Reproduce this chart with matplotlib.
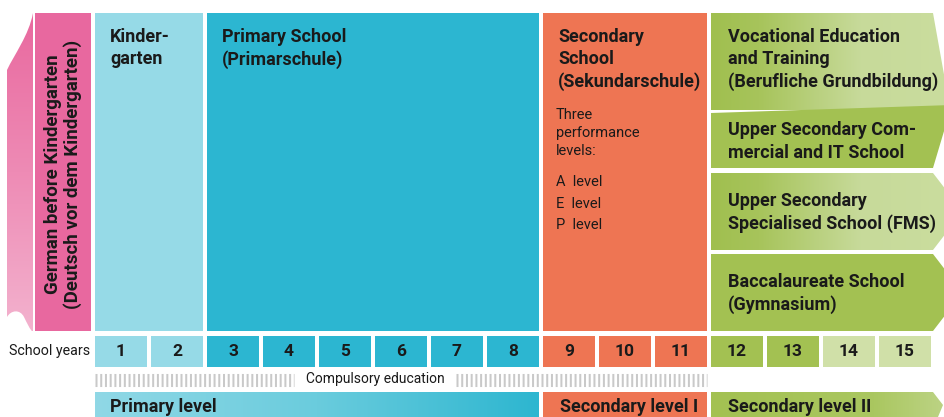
import matplotlib
matplotlib.use('Agg')
import matplotlib.pyplot as plt
import numpy as np
from matplotlib.patches import Polygon, Rectangle, PathPatch
from matplotlib.path import Path
from matplotlib.colors import LinearSegmentedColormap

# ---------------- data ----------------
years = list(range(1, 16))
year_colors = ['#96dae7'] * 2 + ['#2cb6d1'] * 6 + ['#ee7553'] * 3 + ['#a3c152'] * 2 + ['#d0e0a8'] * 2

pre_label = 'German before Kindergarten\n(Deutsch vor dem Kindergarten)'

stage_labels = ['Kinder-\ngarten', 'Primary School\n(Primarschule)', 'Secondary\nSchool\n(Sekundarschule)']
stage_start = [1, 3, 9]
stage_end = [2, 8, 11]
stage_colors = ['#96dae7', '#2cb6d1', '#ee7553']

sec_note = 'Three\nperformance\nlevels:'
sec_levels = ['A  level', 'E  level', 'P  level']

upper_labels = ['Vocational Education\nand Training\n(Berufliche Grundbildung)',
                'Upper Secondary Com-\nmercial and IT School',
                'Upper Secondary\nSpecialised School (FMS)',
                'Baccalaureate School\n(Gymnasium)']
upper_gradient = [True, False, True, False]
upper_start, upper_end = 12, 15

levels = ['Primary level', 'Secondary level I', 'Secondary level II']
level_start = [1, 9, 12]
level_end = [8, 11, 15]

compulsory_start, compulsory_end = 1, 11
compulsory_label = 'Compulsory education'
school_years_label = 'School years'

# ---------------- style / layout ----------------
FONT = ['Roboto', 'DejaVu Sans']
plt.rcParams['font.family'] = FONT
plt.rcParams['lines.scale_dashes'] = False
TXT = '#1a1a1a'
PINK = '#e8689f'
GREEN = '#a3c152'
GREEN_L = '#cadd9e'
HEAD_FS = 13
CW = 52 / 56          # cell width in year units (gap 4px of 56px pitch)
TOP, BOT = 13, 331    # top blocks (pixel rows)
YR0, YR1 = 336, 367   # school years row
CMP_Y = 379.5          # compulsory hatch line
LV0, LV1 = 392, 419   # level bars
W, H = 944, 417

fig = plt.figure(figsize=(W / 100, H / 100), dpi=100)
ax = fig.add_axes([0, 0, 1, 1])
ax.set_axis_off()


def xl(year):
    return year - 1


def xr(year):
    return year - 1 + CW


def grad(patch, x0, x1, y0, y1, stops, vertical=False):
    patch.set_facecolor('none')
    patch.set_edgecolor('none')
    ax.add_patch(patch)
    cmap = LinearSegmentedColormap.from_list('g', stops)
    arr = np.linspace(0, 1, 256)
    arr = arr.reshape(-1, 1) if vertical else arr.reshape(1, -1)
    im = ax.imshow(arr, cmap=cmap, extent=(x0, x1, y1, y0), aspect='auto',
                   origin='upper', interpolation='bilinear', zorder=1)
    im.set_clip_path(patch)


# ---- left decorative curved shape ----
u = lambda p: (p - 95) / 56.0  # pixel -> year-unit helper for decoration
verts = [(u(33), 13), (u(29), 35), (u(14), 55), (u(7), 70),
         (u(7), 317),
         (u(11), 310), (u(20), 309), (u(24), 317),
         (u(27), 323), (u(30), 330), (u(33), 332),
         (u(33), 13)]
codes = [Path.MOVETO, Path.CURVE4, Path.CURVE4, Path.CURVE4,
         Path.LINETO,
         Path.CURVE4, Path.CURVE4, Path.CURVE4,
         Path.CURVE4, Path.CURVE4, Path.CURVE4,
         Path.CLOSEPOLY]
grad(PathPatch(Path(verts, codes)), u(5), u(34), TOP, BOT,
     ['#e9699f', '#ee8bb5', '#f3b2ce'], vertical=True)

# ---- pink strip (before kindergarten, year "0") ----
ax.add_patch(Rectangle((xl(0) - 4 / 56, TOP), 1.0, BOT - TOP, color=PINK, lw=0))
ax.text(xl(0) - 4 / 56 + 0.5, 174, pre_label, rotation=90, ha='center', va='center',
        multialignment='center', fontsize=13.5, fontweight='bold', color=TXT, linespacing=1.1)

# ---- top stage blocks ----
for lab, s, e, c in zip(stage_labels, stage_start, stage_end, stage_colors):
    ax.add_patch(Rectangle((xl(s), TOP), xr(e) - xl(s), BOT - TOP, color=c, lw=0))
    ax.text(xl(s) + 15 / 56, 28, lab, ha='left', va='top', fontsize=HEAD_FS,
            fontweight='bold', color=TXT, linespacing=1.3)

ax.text(xl(9) + 13 / 56, 108, sec_note, ha='left', va='top', fontsize=10.5,
        color=TXT, linespacing=1.35)
for i, lv in enumerate(sec_levels):
    ax.text(xl(9) + 13 / 56, 182 + 21.5 * i, lv, ha='left', va='center',
            fontsize=10.5, color=TXT)

# ---- upper secondary blocks (chevrons) ----
ux0 = xl(upper_start)
ux1 = xr(upper_end) + 2 / 56
rows = [(13, 110), (113, 168), (173, 250), (254, 331)]
edge = 15.3
shapes = [
    [(ux0, 13), (ux1, 13), (edge, 110 + 8), (ux0, 110)],
    [(ux0, 113), (edge, 113 - 8), (ux1, 168), (ux0, 168)],
]
for (y0, y1) in rows[2:]:
    mid = (y0 + y1) / 2
    tip = ux1 + (mid - y0) * 0.77 / 56
    shapes.append([(ux0, y0), (ux1, y0), (tip, mid), (ux1, y1), (ux0, y1)])

for i, (lab, g, (y0, y1), pts) in enumerate(zip(upper_labels, upper_gradient, rows, shapes)):
    if g:
        grad(Polygon(pts, closed=True), ux0, edge, y0, y1,
             [(0, '#a0bf4f'), (0.2, '#a7c45b'), (0.62, '#c7da9a'), (1, GREEN_L)])
    else:
        ax.add_patch(Polygon(pts, closed=True, color=GREEN, lw=0))
    if i == 0:
        ax.text(ux0 + 17 / 56, 28, lab, ha='left', va='top', fontsize=HEAD_FS,
                fontweight='bold', color=TXT, linespacing=1.3, zorder=3)
    else:
        ax.text(ux0 + 17 / 56, (y0 + y1) / 2 + 1, lab, ha='left', va='center',
                fontsize=HEAD_FS, fontweight='bold', color=TXT, linespacing=1.3, zorder=3)

# ---- school years row ----
ax.text(-5 / 56, (YR0 + YR1) / 2, school_years_label, ha='right', va='center',
        fontsize=10.3, color=TXT)
for y, c in zip(years, year_colors):
    ax.add_patch(Rectangle((xl(y), YR0), CW, YR1 - YR0, color=c, lw=0))
    ax.text(xl(y) + CW / 2, (YR0 + YR1) / 2 + 0.5, str(y), ha='center', va='center',
            fontsize=12.5, fontweight='bold', color=TXT)

# ---- compulsory education hatch ----
lab_c = 5.0
gap_l, gap_r = lab_c - 81 / 56, lab_c + 81 / 56
for a, b in [(xl(compulsory_start), gap_l), (gap_r, xr(compulsory_end))]:
    ax.plot([a, b], [CMP_Y, CMP_Y], color='#c9c9c9', lw=9.4, solid_capstyle='butt',
            dashes=(1.45, 1.95), dash_capstyle='butt')
ax.text(lab_c, CMP_Y, compulsory_label, ha='center', va='center', fontsize=10, color=TXT)

# ---- level bars ----
for i, (lab, s, e) in enumerate(zip(levels, level_start, level_end)):
    x0, x1 = xl(s), xr(e)
    if i == 0:
        grad(Rectangle((x0, LV0), x1 - x0, LV1 - LV0), x0, x1, LV0, LV1,
             ['#90d8e6', '#6accdd', '#2db6d0'])
    elif i == 1:
        ax.add_patch(Rectangle((x0, LV0), x1 - x0, LV1 - LV0, color='#ee7553', lw=0))
    else:
        x1 = x1 + 2 / 56
        mid = 405
        pts = [(x0, LV0), (x1, LV0), (x1 + 10 / 56, mid), (x1, LV1 + 10), (x0, LV1 + 10)]
        grad(Polygon(pts, closed=True), x0, x1 + 11 / 56, LV0, LV1 + 10,
             [(0, '#a3c152'), (0.7, '#aac760'), (1, '#bcd384')])
    ax.text(x0 + (15 if i == 0 else 17) / 56, 407, lab, ha='left', va='center',
            fontsize=13, fontweight='bold', color=TXT, zorder=3)

ax.set_xlim(-95 / 56, (W - 95) / 56)
ax.set_ylim(H, 0)
fig.savefig('out.png', dpi=100)
